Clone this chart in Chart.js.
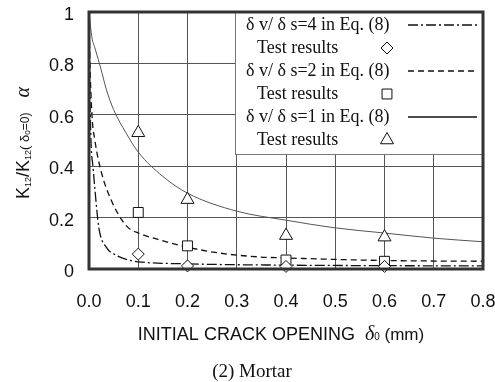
<!DOCTYPE html>
<html>
<head>
<meta charset="utf-8">
<script src="https://cdn.jsdelivr.net/npm/chart.js@4.4.1/dist/chart.umd.min.js"></script>
<style>
  html, body { margin: 0; padding: 0; background: #fff; }
</style>
</head>
<body>
<canvas id="chart" width="495" height="382"></canvas>
<script>
// --- Data ---
const xTickLabels = ['0.0', '0.1', '0.2', '0.3', '0.4', '0.5', '0.6', '0.7', '0.8'];
const yTickLabels = ['0', '0.2', '0.4', '0.6', '0.8', '1'];

// Eq. (8) curves
const ratio1X = [0, 0.006, 0.012, 0.024, 0.035, 0.05, 0.075, 0.1, 0.15, 0.2, 0.3, 0.4, 0.5, 0.6, 0.7, 0.8];
const ratio1Y = [1.0, 0.9, 0.86, 0.78, 0.7, 0.62, 0.53, 0.455, 0.36, 0.295, 0.225, 0.19, 0.16, 0.14, 0.12, 0.106];
const ratio2X = [0, 0.002, 0.006, 0.012, 0.026, 0.047, 0.067, 0.08, 0.1, 0.14, 0.2, 0.265, 0.345, 0.4, 0.6, 0.8];
const ratio2Y = [1.0, 0.8, 0.6, 0.5, 0.37, 0.26, 0.19, 0.16, 0.14, 0.115, 0.085, 0.062, 0.047, 0.043, 0.033, 0.03];
const ratio4X = [0, 0.001, 0.004, 0.008, 0.012, 0.02, 0.035, 0.055, 0.08, 0.1, 0.2, 0.4, 0.6, 0.8];
const ratio4Y = [1.0, 0.8, 0.5, 0.4, 0.31, 0.16, 0.085, 0.054, 0.035, 0.028, 0.02, 0.015, 0.013, 0.012];

// Test results
const testX = [0.1, 0.2, 0.4, 0.6];
const test1 = [0.53, 0.27, 0.13, 0.124];   // triangles
const test2 = [0.22, 0.09, 0.035, 0.03];   // squares
const test4 = [0.058, 0.012, 0.01, 0.01];  // diamonds

const legendTexts = [
    'δ v/ δ s=4 in Eq. (8)',
    'Test results',
    'δ v/ δ s=2 in Eq. (8)',
    'Test results',
    'δ v/ δ s=1 in Eq. (8)',
    'Test results'
];

const toPoints = (xs, ys) => xs.map((x, i) => ({ x: x, y: ys[i] }));

function markerSet(label, ys, style, radius) {
    return {
        label: label,
        data: toPoints(testX, ys),
        showLine: false,
        pointStyle: style,
        pointRadius: radius,
        pointBorderWidth: 1,
        pointBorderColor: '#111',
        pointBackgroundColor: '#fff',
        clip: false
    };
}

function curveSet(label, xs, ys, color, width, dash) {
    return {
        label: label,
        data: toPoints(xs, ys),
        showLine: true,
        borderColor: color,
        borderWidth: width,
        borderDash: dash,
        pointRadius: 0,
        cubicInterpolationMode: 'monotone',
        fill: false
    };
}

const datasets = [
    markerSet('Test results 4', test4, 'rectRot', 6),
    markerSet('Test results 2', test2, 'rect', 7),
    markerSet('Test results 1', test1, 'triangle', 7.5),
    curveSet('δ v/ δ s=4 in Eq. (8)', ratio4X, ratio4Y, '#111', 1.3, [10, 3, 2, 3]),
    curveSet('δ v/ δ s=2 in Eq. (8)', ratio2X, ratio2Y, '#111', 1.3, [6, 4]),
    curveSet('δ v/ δ s=1 in Eq. (8)', ratio1X, ratio1Y, '#555', 1, [])
];

// draws a line of text pieces (for subscripts), centred at x
function drawPieces(ctx, pieces, x, y) {
    let total = 0;
    pieces.forEach(p => { ctx.font = p.font; p.w = ctx.measureText(p.t).width; total += p.w; });
    let cx = x - total / 2;
    ctx.textAlign = 'left';
    ctx.textBaseline = 'alphabetic';
    pieces.forEach(p => {
        ctx.font = p.font;
        ctx.fillText(p.t, cx, y + (p.dy || 0));
        cx += p.w;
    });
}

const decorPlugin = {
    id: 'decor',
    afterDraw(chart) {
        const ctx = chart.ctx;
        const a = chart.chartArea;
        ctx.save();

        // legend box
        const bx = 235, by = a.top, bw = a.right - 235, bh = 142;
        ctx.fillStyle = '#fff';
        ctx.fillRect(bx, by, bw, bh);
        ctx.strokeStyle = '#777';
        ctx.lineWidth = 1;
        ctx.strokeRect(bx + 0.5, by + 0.5, bw, bh);

        // frame
        ctx.strokeStyle = '#333';
        ctx.lineWidth = 3;
        ctx.strokeRect(a.left, a.top, a.right - a.left, a.bottom - a.top);

        // legend rows
        const rowStyle = [
            { kind: 'line', ds: 3 }, { kind: 'mark', ds: 0 },
            { kind: 'line', ds: 4 }, { kind: 'mark', ds: 1 },
            { kind: 'line', ds: 5 }, { kind: 'mark', ds: 2 }
        ];
        ctx.font = '18px "Liberation Serif"';
        ctx.textBaseline = 'middle';
        legendTexts.forEach((t, i) => {
            const y = 25 + i * 23;
            const r = rowStyle[i];
            const ds = chart.data.datasets[r.ds];
            ctx.textAlign = 'left';
            ctx.fillStyle = '#111';
            ctx.fillText(t, r.kind === 'line' ? 246 : 257, y);
            if (r.kind === 'line') {
                ctx.save();
                ctx.strokeStyle = '#111';
                ctx.lineWidth = 1.5;
                ctx.setLineDash(ds.borderDash);
                ctx.beginPath();
                ctx.moveTo(408, y);
                ctx.lineTo(477, y);
                ctx.stroke();
                ctx.restore();
            } else {
                ctx.save();
                ctx.strokeStyle = '#111';
                ctx.fillStyle = '#fff';
                ctx.lineWidth = 1;
                Chart.helpers.drawPoint(ctx, {
                    pointStyle: ds.pointStyle, radius: ds.pointRadius, borderWidth: 1
                }, 387, y);
                ctx.restore();
            }
        });

        // x axis title
        ctx.fillStyle = '#111';
        drawPieces(ctx, [
            { t: 'INITIAL CRACK OPENING ', font: '18px "Liberation Sans"' },
            { t: ' δ', font: 'italic 20px "Liberation Serif"' },
            { t: '0', font: '10px "Liberation Sans"', dy: 0 },
            { t: ' (mm)', font: '17px "Liberation Sans"' }
        ], 281, 340);

        // caption
        drawPieces(ctx, [{ t: '(2) Mortar', font: '19px "Liberation Serif"' }], 252, 377);

        // y axis title (rotated)
        ctx.save();
        ctx.translate(29, 143);
        ctx.rotate(-Math.PI / 2);
        drawPieces(ctx, [
            { t: 'K', font: '18px "Liberation Sans"' },
            { t: '12', font: '9px "Liberation Sans"', dy: 2 },
            { t: '/K', font: '18px "Liberation Sans"' },
            { t: '12', font: '9px "Liberation Sans"', dy: 2 },
            { t: '( δ', font: '13px "Liberation Sans"' },
            { t: '0', font: '8px "Liberation Sans"', dy: 1 },
            { t: '=0)', font: '12px "Liberation Sans"' },
            { t: '   α', font: 'italic 20px "Liberation Serif"' }
        ], 0, 0);
        ctx.restore();

        ctx.restore();
    }
};

new Chart(document.getElementById('chart'), {
    type: 'scatter',
    data: { datasets: datasets },
    options: {
        responsive: false,
        animation: false,
        layout: { padding: { top: 12, right: 12, left: 0, bottom: 0 } },
        plugins: { legend: { display: false }, tooltip: { enabled: false } },
        scales: {
            x: {
                type: 'linear',
                min: 0, max: 0.8,
                afterFit: s => { s.height = 113; s.paddingLeft = 0; s.paddingRight = 0; },
                ticks: {
                    stepSize: 0.1,
                    padding: 22,
                    color: '#111',
                    font: { family: 'Liberation Sans', size: 18 },
                    callback: (v, i) => xTickLabels[i]
                },
                grid: { color: '#555', lineWidth: 1, drawTicks: false },
                border: { display: false }
            },
            y: {
                min: 0, max: 1,
                afterFit: s => { s.width = 89; s.paddingTop = 0; s.paddingBottom = 0; },
                ticks: {
                    stepSize: 0.2,
                    padding: 15,
                    labelOffset: 3,
                    color: '#111',
                    font: { family: 'Liberation Sans', size: 18 },
                    callback: (v, i) => yTickLabels[i]
                },
                grid: { color: '#555', lineWidth: 1, drawTicks: false },
                border: { display: false }
            }
        }
    },
    plugins: [decorPlugin]
});
</script>
</body>
</html>
